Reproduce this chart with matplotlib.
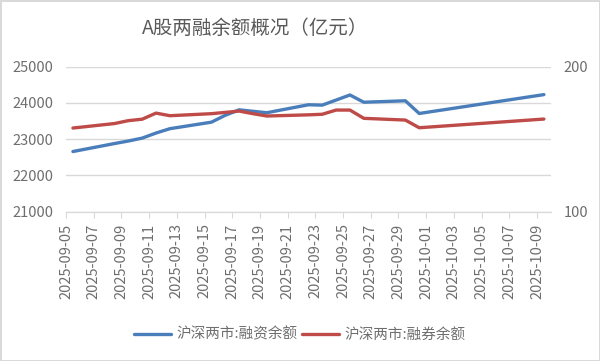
import pandas as pd
import matplotlib
matplotlib.use('Agg')
import matplotlib.pyplot as plt
import matplotlib.dates as mdates

plt.rcParams['font.family'] = ['Noto Sans CJK SC', 'DejaVu Sans']

# trading days and balances (亿元)
dates = ['2025-09-05', '2025-09-08', '2025-09-09', '2025-09-10', '2025-09-11',
         '2025-09-12', '2025-09-15', '2025-09-16', '2025-09-17', '2025-09-18',
         '2025-09-19', '2025-09-22', '2025-09-23', '2025-09-24', '2025-09-25',
         '2025-09-26', '2025-09-29', '2025-09-30', '2025-10-09']
financing = [22660, 22880, 22950, 23030, 23170, 23290, 23470, 23660, 23810, 23770,
             23730, 23950, 23940, 24080, 24220, 24020, 24060, 23710, 24230]
lending = [157.7, 160.8, 162.8, 163.8, 168.0, 166.2, 167.6, 168.5, 169.4, 167.6,
           166.0, 166.8, 167.2, 170.1, 170.1, 164.4, 163.2, 157.9, 163.9]
tick_days = pd.date_range('2025-09-05', '2025-10-09', freq='2D')

txt = '#595959'
tick_txt = '#6e6e6e'
grid = '#d9d9d9'
blue = '#4a7ebb'
red = '#be4b48'

# points sit in the middle of each day slot, like an Excel date axis
x = pd.to_datetime(dates) + pd.Timedelta(hours=12)

fig = plt.figure(figsize=(6, 3.61), dpi=100)
fig.patch.set_edgecolor(grid)
fig.patch.set_linewidth(2)

ax = fig.add_axes([0.11, 0.4136, 0.808, 0.4016])
ax2 = ax.twinx()

ax.plot(x, financing, color=blue, lw=2.4, solid_capstyle='round', label='沪深两市:融资余额', zorder=3)
ax2.plot(x, lending, color=red, lw=2.4, solid_capstyle='round', label='沪深两市:融券余额', zorder=3)

ax.set_ylim(21000, 25000)
ax.set_yticks(range(21000, 25001, 1000))
ax2.set_ylim(100, 200)
ax2.set_yticks([100, 200])
ax.set_xlim(pd.Timestamp('2025-09-05'), pd.Timestamp('2025-10-10'))
ax.set_xticks(tick_days)
ax.xaxis.set_major_formatter(mdates.DateFormatter('%Y-%m-%d'))

ax.grid(axis='y', color=grid, lw=1)
ax.set_axisbelow(True)
for a in (ax, ax2):
    for s in ['top', 'left', 'right']:
        a.spines[s].set_visible(False)
    a.spines['bottom'].set_color(grid)
ax.tick_params(axis='y', length=0, pad=9, colors=tick_txt, labelsize=10.5)
ax2.tick_params(axis='y', length=0, pad=9, colors=tick_txt, labelsize=10.5)
ax.tick_params(axis='x', length=4.5, pad=4, colors=tick_txt, labelsize=10.5,
               labelrotation=90)
ax.tick_params(axis='x', color=grid)

fig.text(0.425, 0.92, 'A股两融余额概况（亿元）', ha='center', va='center',
         fontsize=14, color=txt)

h1, l1 = ax.get_legend_handles_labels()
h2, l2 = ax2.get_legend_handles_labels()
fig.legend(h1 + h2, l1 + l2, loc='center', bbox_to_anchor=(0.5, 0.073), ncol=2,
           frameon=False, fontsize=10.5, labelcolor=tick_txt, handlelength=2.5,
           handletextpad=0.4, columnspacing=0.3)

fig.savefig('out.png', dpi=100)
